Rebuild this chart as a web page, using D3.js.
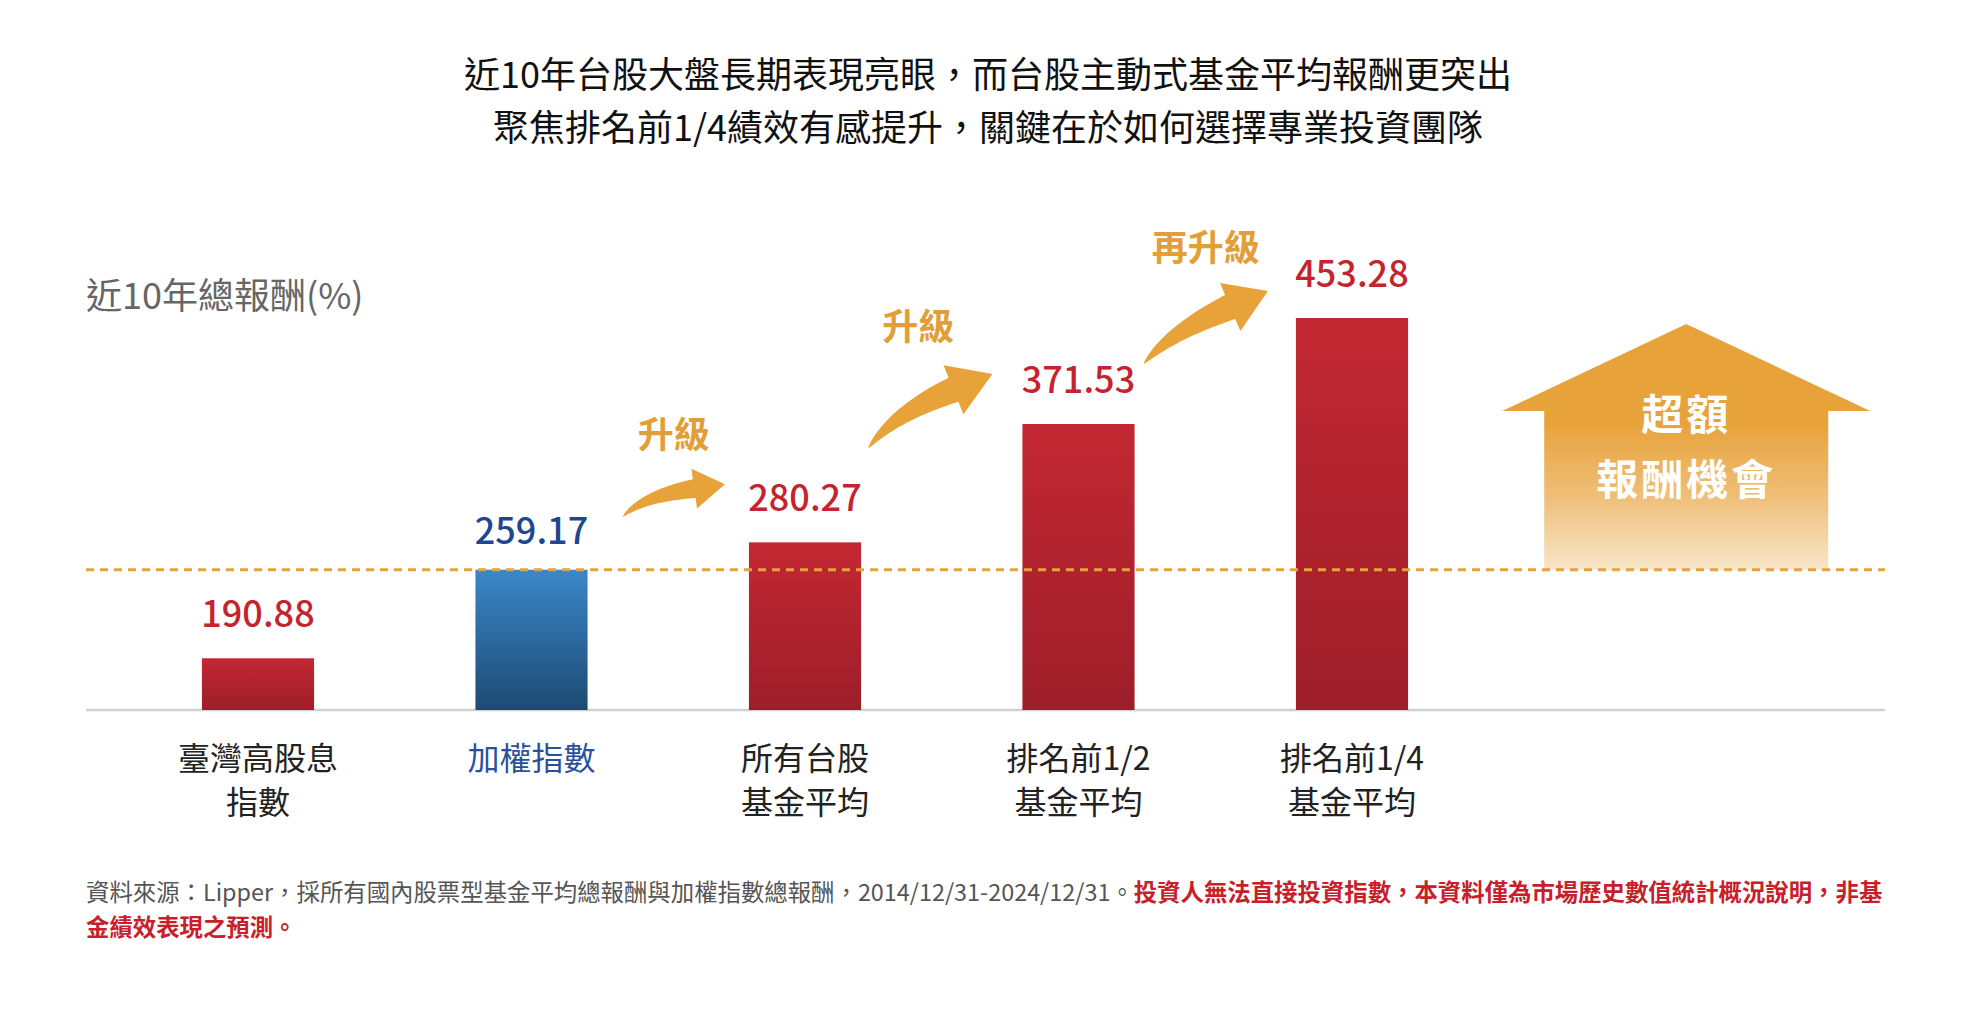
<!DOCTYPE html>
<html lang="zh-Hant">
<head>
<meta charset="utf-8">
<title>近10年總報酬</title>
<script src="https://cdn.jsdelivr.net/npm/d3@7"></script>
<style>
  html, body { margin: 0; padding: 0; background: #fff; }
  svg { display: block; font-family: "Noto Sans CJK TC", "Noto Sans CJK SC", sans-serif; }
</style>
</head>
<body>
<div id="chart"></div>
<script>
// data
const categories = ['臺灣高股息指數', '加權指數', '所有台股基金平均', '排名前1/2基金平均', '排名前1/4基金平均'];
const categoryLines = [['臺灣高股息', '指數'], ['加權指數'], ['所有台股', '基金平均'], ['排名前1/2', '基金平均'], ['排名前1/4', '基金平均']];
const returns = [190.88, 259.17, 280.27, 371.53, 453.28];
const benchmark = '加權指數';
const upgradeLabels = ['升級', '升級', '再升級'];
const titleLines = ['近10年台股大盤長期表現亮眼，而台股主動式基金平均報酬更突出', '聚焦排名前1/4績效有感提升，關鍵在於如何選擇專業投資團隊'];
const yLabel = '近10年總報酬(%)';
const calloutLines = ['超額', '報酬機會'];
const sourceNote = '資料來源：Lipper，採所有國內股票型基金平均總報酬與加權指數總報酬，2014/12/31-2024/12/31。';
const disclaimer = ['投資人無法直接投資指數，本資料僅為市場歷史數值統計概況說明，非基', '金績效表現之預測。'];

const fullWidth = 1976
const fullHeight = 1016
const left = 86
const right = 1885
const baseline = 710

const orange = '#E8A23A'
const red = '#C5242F'
const blue = '#1F4690'

const svg = d3.select('#chart')
    .append('svg')
    .attr('width', fullWidth)
    .attr('height', fullHeight)
    .attr('viewBox', [0, 0, fullWidth, fullHeight]);

const defs = svg.append('defs');

function vGradient(id, stops) {
    const g = defs.append('linearGradient')
        .attr('id', id)
        .attr('x1', 0).attr('y1', 0).attr('x2', 0).attr('y2', 1);
    g.selectAll('stop')
        .data(stops)
        .enter()
        .append('stop')
        .attr('offset', d => d[0])
        .attr('stop-color', d => d[1]);
}
vGradient('redBar', [[0, '#C32832'], [1, '#9D1E29']]);
vGradient('blueBar', [[0, '#3B87C9'], [1, '#1D4A72']]);
vGradient('callout', [[0, '#E8A23A'], [0.4, '#E8A23A'], [0.7, '#EFBE78'], [1, '#F8E6CA']]);

// scales
const x = d3.scaleBand()
    .domain(categories)
    .range([121.25, 1488.75])
    .paddingInner(0.59)
    .paddingOuter(0.295);

const y = d3.scaleLinear()
    .domain([151, 453.28])
    .range([baseline, 318]);

const bw = x.bandwidth();
const data = categories.map((c, i) => ({ name: c, lines: categoryLines[i], value: returns[i] }));
const refValue = returns[categories.indexOf(benchmark)];

// Title
svg.append('g')
    .selectAll('text')
    .data(titleLines)
    .enter()
    .append('text')
    .attr('x', fullWidth / 2)
    .attr('y', (d, i) => 75 + i * 53)
    .attr('dy', '0.35em')
    .attr('text-anchor', 'middle')
    .style('font-size', '36px')
    .style('fill', '#111')
    .text(d => d);

// y label
svg.append('text')
    .attr('x', left)
    .attr('y', 296)
    .attr('dy', '0.35em')
    .style('font-size', '36px')
    .style('fill', '#666')
    .text(yLabel);

// baseline
svg.append('line')
    .attr('x1', left).attr('x2', right)
    .attr('y1', y(151)).attr('y2', y(151))
    .style('stroke', '#d0d0d0')
    .style('stroke-width', 2.5);

// Excess return callout (house arrow)
const step = x.step();
const cx = x(categories[categories.length - 1]) + bw / 2 + step * 1.222;
const calloutBottom = y(refValue);
const housePts = [
    [cx, 324],
    [cx + 184, 411],
    [cx + 142, 411],
    [cx + 142, calloutBottom],
    [cx - 142, calloutBottom],
    [cx - 142, 411],
    [cx - 184, 411]
];
svg.append('path')
    .attr('d', d3.line()(housePts) + 'Z')
    .style('fill', 'url(#callout)');
svg.append('g')
    .selectAll('text')
    .data(calloutLines)
    .enter()
    .append('text')
    .attr('x', cx)
    .attr('y', (d, i) => 415 + i * 65)
    .attr('dy', '0.35em')
    .attr('text-anchor', 'middle')
    .style('font-size', '42px')
    .style('font-weight', 700)
    .style('letter-spacing', '3px')
    .style('fill', '#fff')
    .text(d => d);

// Bars
svg.append('g')
    .selectAll('rect')
    .data(data)
    .enter()
    .append('rect')
    .attr('x', d => x(d.name))
    .attr('y', d => y(d.value))
    .attr('width', bw)
    .attr('height', d => y(151) - y(d.value))
    .style('fill', d => d.name === benchmark ? 'url(#blueBar)' : 'url(#redBar)');

// reference dotted line
svg.append('line')
    .attr('x1', left).attr('x2', right)
    .attr('y1', y(refValue)).attr('y2', y(refValue))
    .style('stroke', orange)
    .style('stroke-width', 3)
    .style('stroke-dasharray', '8 6');

// value labels
svg.append('g')
    .selectAll('text')
    .data(data)
    .enter()
    .append('text')
    .attr('x', d => x(d.name) + bw / 2)
    .attr('y', d => y(d.value) - (d.name === benchmark ? 26 : 31))
    .attr('text-anchor', 'middle')
    .style('font-size', '36px')
    .style('font-weight', 500)
    .style('fill', d => d.name === benchmark ? blue : red)
    .text(d => d.value.toFixed(2));

// category labels
svg.append('g')
    .selectAll('text')
    .data(data)
    .enter()
    .append('text')
    .attr('x', d => x(d.name) + bw / 2)
    .attr('text-anchor', 'middle')
    .style('font-size', '32px')
    .style('fill', d => d.name === benchmark ? '#2A509C' : '#222')
    .selectAll('tspan')
    .data(d => d.lines.map(l => ({ l, x: x(d.name) + bw / 2 })))
    .enter()
    .append('tspan')
    .attr('x', d => d.x)
    .attr('y', (d, i) => 759 + i * 44)
    .attr('dy', '0.35em')
    .text(d => d.l);

// Upgrade arrows, from bar i+1 to bar i+2
const arrowStyles = [
    { tailDx: 35, tailDy: -53, tipDx: -24, tipDy: -58, angle: -8, head: 31, headW: 40, shaft: 19, labelDx: 0, labelDy: -49 },
    { tailDx: 7, tailDy: -94, tipDx: -30, tipDy: -50, angle: -22, head: 42, headW: 53, shaft: 26, labelDx: -12, labelDy: -47 },
    { tailDx: 9, tailDy: -60, tipDx: -28, tipDy: -27, angle: -23, head: 41, headW: 52, shaft: 26, labelDx: 0, labelDy: -43 }
];

function arrowPath(T, P, s) {
    const a = s.angle * Math.PI / 180;
    const dir = [Math.cos(a), Math.sin(a)];
    const B = [P[0] - dir[0] * s.head, P[1] - dir[1] * s.head];
    const cxp = T[0] + 0.3 * (B[0] - T[0]);
    const k = (B[0] - cxp) / dir[0];
    const C = [B[0] - dir[0] * k, B[1] - dir[1] * k];
    const upper = [];
    const lower = [];
    const n = 30;
    for (let i = 0; i <= n; i++) {
        const t = i / n;
        const px = (1 - t) * (1 - t) * T[0] + 2 * (1 - t) * t * C[0] + t * t * B[0];
        const py = (1 - t) * (1 - t) * T[1] + 2 * (1 - t) * t * C[1] + t * t * B[1];
        let tx = 2 * (1 - t) * (C[0] - T[0]) + 2 * t * (B[0] - C[0]);
        let ty = 2 * (1 - t) * (C[1] - T[1]) + 2 * t * (B[1] - C[1]);
        const len = Math.hypot(tx, ty);
        tx /= len; ty /= len;
        const w = s.shaft * Math.pow(t, 0.75) / 2;
        upper.push([px + ty * w, py - tx * w]);
        lower.push([px - ty * w, py + tx * w]);
    }
    const nx = dir[1], ny = -dir[0];
    const head = [
        [B[0] + nx * s.headW / 2, B[1] + ny * s.headW / 2],
        P,
        [B[0] - nx * s.headW / 2, B[1] - ny * s.headW / 2]
    ];
    return d3.line()(upper.concat(head, lower.reverse())) + 'Z';
}

const arrows = upgradeLabels.map((label, i) => {
    const from = data[i + 1];
    const to = data[i + 2];
    const s = arrowStyles[i];
    const T = [x(from.name) + bw + s.tailDx, y(from.value) + s.tailDy];
    const P = [x(to.name) + s.tipDx, y(to.value) + s.tipDy];
    return { label, T, P, s };
});

const arrowG = svg.append('g');
arrowG.selectAll('path')
    .data(arrows)
    .enter()
    .append('path')
    .attr('d', d => arrowPath(d.T, d.P, d.s))
    .style('fill', orange);

arrowG.selectAll('text')
    .data(arrows)
    .enter()
    .append('text')
    .attr('x', d => (d.T[0] + d.P[0]) / 2 + d.s.labelDx)
    .attr('y', d => d.P[1] + d.s.labelDy)
    .attr('dy', '0.35em')
    .attr('text-anchor', 'middle')
    .style('font-size', '36px')
    .style('font-weight', 700)
    .style('fill', '#E29F38')
    .text(d => d.label);

// Footnote
const note = svg.append('text')
    .attr('x', left)
    .attr('y', 893)
    .attr('dy', '0.35em')
    .style('font-size', '23.4px');
note.append('tspan')
    .style('fill', '#555')
    .text(sourceNote);
note.append('tspan')
    .style('fill', '#C8202A')
    .style('font-weight', 700)
    .text(disclaimer[0]);
svg.append('text')
    .attr('x', left)
    .attr('y', 928)
    .attr('dy', '0.35em')
    .style('font-size', '23.4px')
    .style('fill', '#C8202A')
    .style('font-weight', 700)
    .text(disclaimer[1]);
</script>
</body>
</html>
